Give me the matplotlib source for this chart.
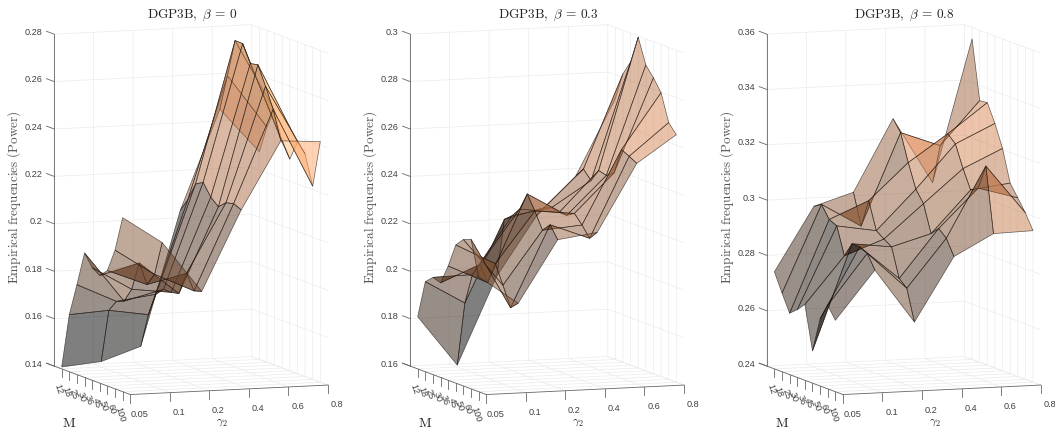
import numpy as np
import matplotlib
matplotlib.use('Agg')
import matplotlib.pyplot as plt
from mpl_toolkits.mplot3d import proj3d

plt.rcParams['font.family'] = ['Liberation Sans', 'DejaVu Sans']
plt.rcParams['mathtext.fontset'] = 'cm'
plt.rcParams['grid.color'] = '#ebebeb'
plt.rcParams['grid.linewidth'] = 0.5

M_labels = ['12', '18', '25', '30', '36', '45', '50', '60', '100']
gamma_labels = ['0.05', '0.1', '0.2', '0.4', '0.6', '0.8']

# one row per gamma2 value, one column per M value
power_b0 = [
    [.1408, .1641, .1779, .1925, .1875, .1854, .1887, .1985, .2134],
    [.1423, .1651, .1701, .1714, .1776, .1899, .1820, .1875, .2021],
    [.1479, .1625, .1723, .1756, .1755, .1762, .1859, .1797, .1807],
    [.2045, .2103, .2180, .2199, .2149, .2120, .2149, .2157, .2143],
    [.2463, .2617, .2777, .2776, .2704, .2711, .2632, .2547, .2426],
    [.2276, .2392, .2475, .2351, .2293, .2377, .2339, .2215, .2415],
]
power_b03 = [
    [.1820, .1980, .2010, .1999, .2082, .2183, .2218, .2231, .2085],
    [.1608, .1882, .2014, .2069, .2004, .2096, .2017, .1934, .1965],
    [.1975, .2227, .2254, .2294, .2370, .2310, .2241, .2276, .2225],
    [.2220, .2268, .2280, .2272, .2272, .2292, .2255, .2211, .2248],
    [.2382, .2423, .2386, .2441, .2432, .2454, .2565, .2549, .2531],
    [.2699, .2817, .2879, .2995, .2890, .2848, .2797, .2683, .2644],
]
power_b08 = [
    [.2751, .2684, .2622, .2645, .2674, .2517, .2643, .2702, .2658],
    [.2981, .2998, .2954, .2941, .2843, .2897, .2896, .2883, .2833],
    [.3025, .2913, .3015, .2917, .2897, .2879, .2775, .2750, .2638],
    [.3284, .3244, .3146, .3060, .3018, .2920, .2949, .2924, .2868],
    [.3046, .3190, .3243, .3217, .3138, .3071, .3088, .3178, .2944],
    [.3559, .3346, .3349, .3284, .3204, .3089, .3046, .3002, .2948],
]

panels = [
    (r'$\mathrm{DGP3B,}\ \beta\,=\,0$', power_b0, [.14, .16, .18, .2, .22, .24, .26, .28], 0),
    (r'$\mathrm{DGP3B,}\ \beta\,=\,0.3$', power_b03, [.16, .18, .2, .22, .24, .26, .28, .3], 356),
    (r'$\mathrm{DGP3B,}\ \beta\,=\,0.8$', power_b08, [.24, .26, .28, .3, .32, .34, .36], 712.7),
]

W, H = 1055, 432
side = 400
fig = plt.figure(figsize=(W / 100, H / 100), dpi=100)
axis_col = '#666666'
text_col = '#404040'


def label3d(ax, x, y, z, s, **kw):
    # put a plain 2D text where the 3D point lands
    px, py, _ = proj3d.proj_transform(x, y, z, ax.get_proj())
    return ax.text2D(px, py, s, transform=ax.transData, **kw)


for title, power, zticks, shift in panels:
    # box centre sits at 51.35% of the 3D axes square
    left = (191 + shift - 0.5135 * side) / W
    bottom = (H - 209.6 - 0.5135 * side) / H
    ax = fig.add_axes([left, bottom, side / W, side / H], projection='3d', proj_type='ortho')
    ax.patch.set_alpha(0)
    ax.view_init(elev=7.7, azim=-109.7)
    ax.set_box_aspect((210, 226, 335), zoom=442 / side)

    zlo, zhi = zticks[0], zticks[-1]
    ax.set_xlim(1, 6)
    ax.set_ylim(10, 0)
    ax.set_zlim(zlo, zhi)
    ax.set_xticks(range(1, 7))
    ax.set_yticks(range(1, 10))
    ax.set_zticks(zticks)
    ax.set_xticklabels([])
    ax.set_yticklabels([])
    ax.set_zticklabels([])
    for axis in [ax.xaxis, ax.yaxis, ax.zaxis]:
        axis.pane.set_facecolor('white')
        axis.pane.set_edgecolor('none')
        axis.line.set_color('none')
        axis.set_tick_params(color='none')

    gx = np.arange(1, 7)
    gy = np.arange(1, 10)
    X, Y = np.meshgrid(gx, gy, indexing='ij')
    Z = np.array(power)
    # flat colour of each cell comes from its first corner, as in a surf plot
    cols = plt.cm.copper((Z - Z.min()) / (Z.max() - Z.min()))
    cols[..., 3] = 0.5
    surf = ax.plot_surface(X, Y, Z, facecolors=cols, rstride=1, cstride=1, shade=False, linewidth=0.5)
    surf.set_edgecolor((0.1, 0.07, 0.05, 0.65))

    zr = zhi - zlo
    # axis lines and tick marks
    ax.plot([1, 1], [0, 0], [zlo, zhi], color=axis_col, lw=0.6)
    ax.plot([1, 1], [-1, 10], [zlo, zlo], color=axis_col, lw=0.6)
    ax.plot([1, 6], [10, 10], [zlo, zlo], color=axis_col, lw=0.6)
    for z in zticks:
        ax.plot([1, 1], [-1, 0], [z, z], color=axis_col, lw=0.6)
        label3d(ax, 1, -1.5, z - 0.007 * zr, '%g' % z, ha='right', va='center', fontsize=6.6, color=text_col)
    for x, lab in zip(gx, gamma_labels):
        ax.plot([x, x], [10, 10], [zlo, zlo - 0.025 * zr], color=axis_col, lw=0.6)
        label3d(ax, x, 11.2, zlo - 0.049 * zr, lab, ha='center', va='center', fontsize=6.6, color=text_col)
    for y, lab in zip(gy, M_labels):
        ax.plot([1, 1], [y, y], [zlo, zlo - 0.025 * zr], color=axis_col, lw=0.6)
        label3d(ax, 1, y - 0.65, zlo - 0.051 * zr, lab, ha='left', va='center', rotation=-72,
                rotation_mode='anchor', fontsize=6.6, color=text_col)

    fig.text((192 + shift) / W, 1 - 15 / H, title, ha='center', va='center', fontsize=9.6, color='#222222')
    fig.text((14 + shift) / W, 1 - 197 / H, r'$\mathrm{Empirical\ frequencies\ (Power)}$',
             rotation=90, ha='center', va='center', fontsize=9.5, color='#555555')
    fig.text((69 + shift) / W, 1 - 423 / H, r'$\mathrm{M}$', ha='center', va='center', fontsize=10, color='#222222')
    fig.text((222 + shift) / W, 1 - 422 / H, r'$\gamma_2$', ha='center', va='center', fontsize=8.5, color='#222222')

fig.savefig('out.png', dpi=100)
